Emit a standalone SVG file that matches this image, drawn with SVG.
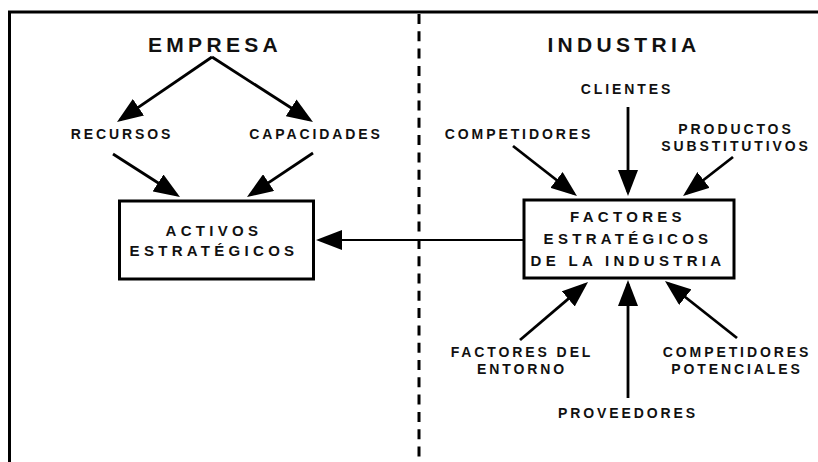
<svg xmlns="http://www.w3.org/2000/svg" width="818" height="462" viewBox="0 0 818 462">
<style>
text{font-family:"Liberation Sans",Arial,sans-serif;font-weight:bold;fill:#111;text-anchor:middle}
.h{font-size:21px;letter-spacing:4.3px}
.l{font-size:14px;letter-spacing:2.9px}
.b{font-size:15px;letter-spacing:4.3px}
.box{fill:#fff;stroke:#000;stroke-width:3}
.c{fill:none;stroke:#000;stroke-width:2.8}
.frame{fill:none;stroke:#000;stroke-width:3}
</style>
<defs>
<marker id="ah" viewBox="0 0 26 20" refX="22" refY="10" markerWidth="26" markerHeight="20" markerUnits="userSpaceOnUse" orient="auto">
<polygon points="0,0 26,10 0,20" fill="#000"/>
</marker>
</defs>
<g id="frame">
<path class="frame" d="M9.5,462 V12 H818"/>
<line x1="419" y1="14" x2="419" y2="462" stroke="#000" stroke-width="3" stroke-dasharray="10 7.3"/>
</g>
<g id="connectors">
<path class="c" marker-end="url(#ah)" d="M212,57 L120.3,119.7"/>
<path class="c" marker-end="url(#ah)" d="M212,57 L309.6,119.8"/>
<path class="c" marker-end="url(#ah)" d="M113,154 L176.6,194.8"/>
<path class="c" marker-end="url(#ah)" d="M313,153 L250.3,194.8"/>
<path class="c" style="stroke-width:2" marker-end="url(#ah)" d="M524,240 L320,240"/>
<path class="c" marker-end="url(#ah)" d="M628,107 L628,192"/>
<path class="c" marker-end="url(#ah)" d="M513,146 L573.8,193.5"/>
<path class="c" marker-end="url(#ah)" d="M733,157 L686.2,193.5"/>
<path class="c" marker-end="url(#ah)" d="M520,340 L585,284.6"/>
<path class="c" marker-end="url(#ah)" d="M628,398 L628,284"/>
<path class="c" marker-end="url(#ah)" d="M737,338 L668.1,283.5"/>
</g>
<g id="empresa"><text class="h" x="215" y="52">EMPRESA</text></g>
<g id="industria"><text class="h" x="624" y="52">INDUSTRIA</text></g>
<g id="recursos"><text class="l" x="122" y="139">RECURSOS</text></g>
<g id="capacidades"><text class="l" x="316" y="139">CAPACIDADES</text></g>
<g id="activos">
<rect class="box" x="119.5" y="201" width="194" height="78"/>
<text class="b" x="214" y="236">ACTIVOS</text>
<text class="b" x="214" y="256">ESTRATÉGICOS</text>
</g>
<g id="factores">
<rect class="box" x="524" y="200" width="210" height="78"/>
<text class="b" x="628" y="222">FACTORES</text>
<text class="b" x="628" y="244">ESTRATÉGICOS</text>
<text class="b" x="628" y="266">DE LA INDUSTRIA</text>
</g>
<g id="clientes"><text class="l" x="627" y="94">CLIENTES</text></g>
<g id="competidores"><text class="l" x="519" y="139">COMPETIDORES</text></g>
<g id="productos">
<text class="l" x="736" y="134">PRODUCTOS</text>
<text class="l" x="736" y="151">SUBSTITUTIVOS</text>
</g>
<g id="entorno">
<text class="l" x="522" y="357">FACTORES DEL</text>
<text class="l" x="522" y="374">ENTORNO</text>
</g>
<g id="potenciales">
<text class="l" x="737" y="357">COMPETIDORES</text>
<text class="l" x="737" y="374">POTENCIALES</text>
</g>
<g id="proveedores"><text class="l" x="628" y="418">PROVEEDORES</text></g>
</svg>
